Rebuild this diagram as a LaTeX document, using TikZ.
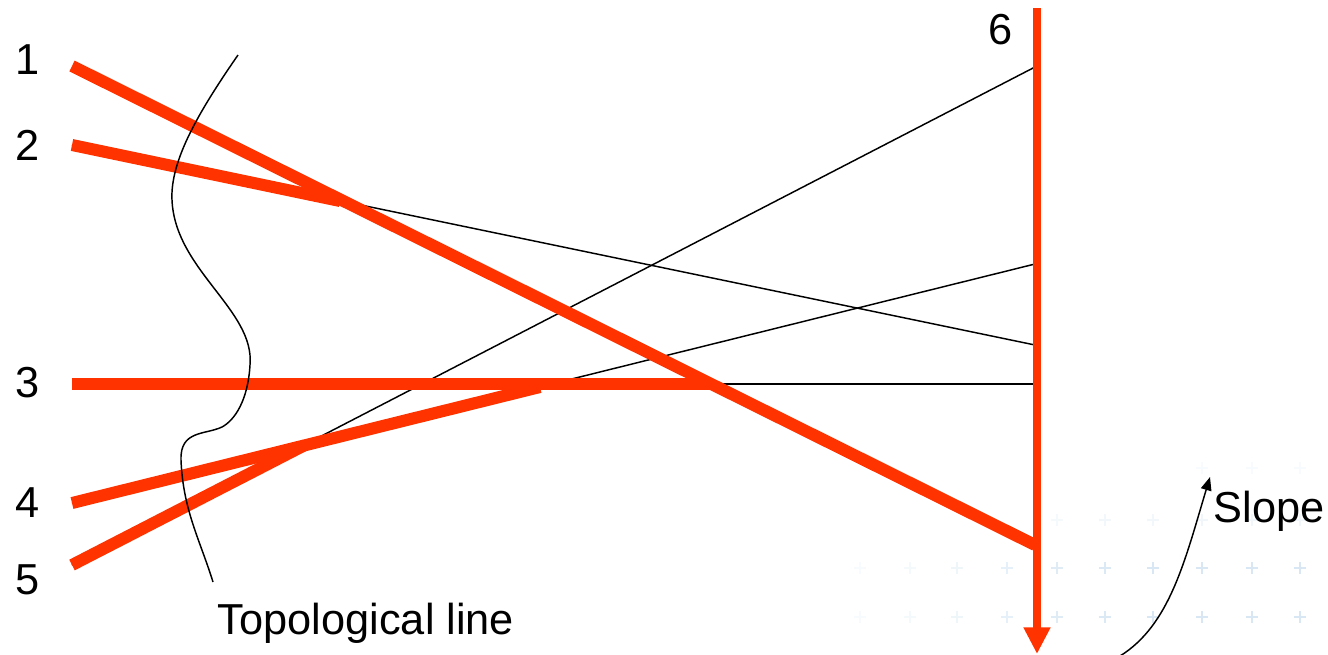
\documentclass[tikz,border=0pt]{standalone}
\usepackage{fontspec}
\setmainfont{Liberation Sans}
\usetikzlibrary{arrows.meta}
\definecolor{rayred}{HTML}{FF3300}
\definecolor{plusblue}{HTML}{B8D4EA}
\begin{document}
\begin{tikzpicture}[x=0.75pt,y=-0.75pt,
  thickray/.style={draw=rayred,line width=9pt},
  thinray/.style={draw=black,line width=1.1pt},
  lbl/.style={font=\fontsize{32.5}{38}\selectfont,inner sep=0pt},
  plusmark/.style={draw=plusblue,line width=0.9pt}]
\useasboundingbox (0,0) rectangle (1328,654);
% faint background plus pattern
\foreach \x/\o in {860/10,910/15,957/22,1007/35,1057/45,1105/50,1153/55,1202/55,1252/55,1300/55}{
  \foreach \y in {568,617}{
    \draw[plusmark,opacity=\o/100] (\x-6,\y) -- (\x+6,\y) (\x,\y-6) -- (\x,\y+6);
  }
}
\foreach \x/\o in {1057/15,1105/18,1153/18,1202/20,1252/20,1300/20}{
  \draw[plusmark,opacity=\o/100] (\x-6,520) -- (\x+6,520) (\x,514) -- (\x,526);
}
\foreach \x/\o in {1202/10,1252/10,1300/10}{
  \draw[plusmark,opacity=\o/100] (\x-6,468) -- (\x+6,468) (\x,462) -- (\x,474);
}
% coordinates
\coordinate (s1) at (72,66);   \coordinate (e1) at (1035,545);
\coordinate (s2) at (72,145);  \coordinate (m2) at (340,201); \coordinate (e2) at (1035,345);
\coordinate (s3) at (72,384);  \coordinate (m3) at (710,384); \coordinate (e3) at (1035,384);
\coordinate (s4) at (72,503);  \coordinate (m4) at (540,387); \coordinate (e4) at (1035,264);
\coordinate (s5) at (72,565);  \coordinate (m5) at (305,445); \coordinate (e5) at (1035,67);
\coordinate (top6) at (1037,8); \coordinate (bot6) at (1037,654);
% thin continuations
\draw[thinray] (s2) -- (e2);
\draw[thinray] (s3) -- (e3);
\draw[thinray] (s4) -- (e4);
\draw[thinray] (s5) -- (e5);
% thick red segments
\draw[thickray] (s2) -- (m2);
\draw[thickray] (s3) -- (m3);
\draw[thickray] (s4) -- (m4);
\draw[thickray] (s5) -- (m5);
\draw[thickray] (s1) -- (e1);
% vertical line 6
\draw[draw=rayred,line width=6pt,-{Triangle[length=20pt,width=19pt]}] (top6) -- (bot6);
% topological line
\draw[black,line width=1.1pt] (238,55) .. controls (200,110) and (170,160) .. (172,200)
  .. controls (175,270) and (255,310) .. (250,365)
  .. controls (248,400) and (235,420) .. (222,427)
  .. controls (205,435) and (180,430) .. (181,460)
  .. controls (183,510) and (200,540) .. (213,582);
% slope arrow
\coordinate (sl0) at (1120,656);
\coordinate (sl1) at (1210,477);
\draw[black,line width=1.1pt,-{Triangle[length=10pt,width=8pt]}] (sl0) .. controls (1170,625) and (1185,560) .. (sl1);
% labels
\node[lbl] (l1) at (28,60) {1};
\node[lbl] (l2) at (28,145) {2};
\node[lbl] (l3) at (28,383) {3};
\node[lbl] (l4) at (28,503) {4};
\node[lbl] (l5) at (28,580) {5};
\node[lbl] (l6) at (1001,30) {6};
\node[lbl] (topo) at (366,623) {Topological line};
\node[lbl] (slope) at (1269,511) {Slope};
\end{tikzpicture}
\end{document}
